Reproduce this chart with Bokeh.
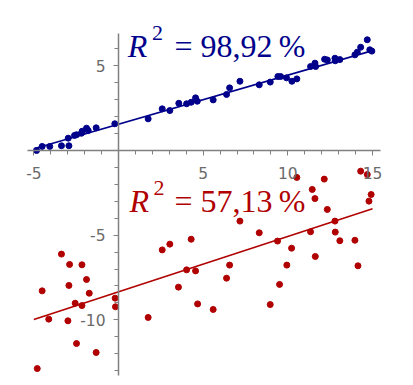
from bokeh.plotting import figure
from bokeh.models import Range1d, SingleIntervalTicker, Label
from bokeh.embed import file_html
from bokeh.resources import INLINE

# Blue series (strong correlation)
blue_x = [-4.84, -4.51, -4.06, -3.37, -2.93, -2.97, -2.60, -2.48, -2.19, -2.15,
          -1.89, -1.79, -1.32, -0.22, 1.75, 2.58, 3.03, 3.56, 4.02, 4.29,
          4.55, 4.65, 5.59, 6.38, 6.56, 7.17, 8.31, 8.96, 9.41, 9.57,
          9.92, 10.24, 10.53, 11.34, 11.60, 11.64, 12.17, 12.33, 12.78, 12.80,
          13.07, 13.96, 14.10, 14.30, 14.69, 14.84, 14.96]
blue_y = [0.00, 0.24, 0.24, 0.28, 0.28, 0.73, 0.89, 0.93, 1.02, 1.14,
          1.32, 1.18, 1.34, 1.58, 1.87, 2.46, 2.36, 2.79, 2.76, 2.85,
          3.11, 2.91, 2.99, 3.31, 3.70, 4.09, 3.88, 4.04, 4.37, 4.37,
          4.29, 4.09, 4.23, 4.96, 5.16, 4.96, 5.39, 5.35, 5.45, 5.30,
          5.37, 5.65, 5.81, 6.10, 6.54, 5.95, 5.87]
blue_fit_x = [-5.0, 15.0]
blue_fit_y = [0.10, 5.90]

# Red series (weak correlation)
red_x = [-4.80, -4.51, -4.12, -3.37, -2.89, -2.93, -2.99, -2.56, -2.48, -2.16,
         -2.16, -1.89, -1.73, -1.32, -0.20, -0.18, 1.75, 2.58, 3.03, 3.54,
         4.02, 4.29, 4.55, 4.67, 5.59, 6.38, 6.56, 7.17, 8.31, 8.96,
         9.39, 9.51, 9.94, 10.22, 10.53, 11.34, 11.44, 11.60, 11.62, 12.15,
         12.33, 12.78, 12.80, 13.07, 13.96, 14.14, 14.30, 14.69, 14.79, 14.92]
red_y = [-12.88, -8.29, -9.96, -6.12, -6.73, -7.97, -10.06, -9.02, -11.40, -6.75,
         -9.16, -7.62, -8.43, -11.93, -8.72, -9.23, -9.86, -5.87, -5.53, -8.07,
         -7.05, -5.24, -7.11, -9.06, -9.39, -7.54, -6.77, -4.17, -4.86, -9.10,
         -5.35, -7.91, -6.77, -5.77, -1.59, -4.80, -2.30, -2.84, -6.26, -1.69,
         -3.48, -4.17, -4.82, -5.33, -5.30, -6.81, -1.22, -1.42, -2.99, -2.60]
red_fit_x = [-5.0, 15.0]
red_fit_y = [-9.98, -3.44]

tick_labels = {-10: "-10", -5: "-5", 0: "", 5: "5", 10: "10", 15: "15"}

BLUE = "#00008b"
RED = "#b00000"

p = figure(width=413, height=385, output_backend="svg", toolbar_location=None,
           x_range=Range1d(-6.97, 17.42), y_range=Range1d(-13.88, 8.86),
           min_border=0)
p.outline_line_color = None
p.grid.visible = False
p.background_fill_color = "white"

for ax, bounds, standoff in ((p.xaxis, (-5.4, 15.5), 11), (p.yaxis, (-13.3, 6.9), 8)):
    ax.fixed_location = 0
    ax.ticker = SingleIntervalTicker(interval=5, num_minor_ticks=5)
    ax.bounds = bounds
    ax.major_label_overrides = tick_labels
    ax.axis_line_color = "#808080"
    ax.axis_line_width = 1.5
    ax.major_tick_line_color = "#808080"
    ax.minor_tick_line_color = "#808080"
    ax.major_tick_in = 0
    ax.major_tick_out = 5
    ax.minor_tick_in = 0
    ax.minor_tick_out = 4
    ax.major_label_text_color = "#6a6a6a"
    ax.major_label_text_font = "DejaVu Sans"
    ax.major_label_text_font_size = "15.5px"
    ax.major_label_standoff = standoff

p.line(blue_fit_x, blue_fit_y, line_color=BLUE, line_width=1.6)
p.scatter(blue_x, blue_y, size=6, color=BLUE)
p.line(red_fit_x, red_fit_y, line_color=RED, line_width=1.6)
p.scatter(red_x, red_y, size=6, color=RED)

def r2_label(x_r, x_sup, x_eq, y_base, y_sup, rest, color):
    p.add_layout(Label(x=x_r, y=y_base, text="R", text_color=color,
                       text_font="Liberation Serif", text_font_style="italic",
                       text_font_size="32px", text_baseline="alphabetic"))
    p.add_layout(Label(x=x_sup, y=y_sup, text="2", text_color=color,
                       text_font="Liberation Serif", text_font_size="22px",
                       text_baseline="alphabetic"))
    p.add_layout(Label(x=x_eq, y=y_base, text=rest, text_color=color,
                       text_font="Liberation Serif", text_font_size="32px",
                       text_baseline="alphabetic"))

r2_label(0.55, 1.98, 3.30, 6.17, 6.95, "= 98,92\u2009%", BLUE)
r2_label(0.65, 2.06, 3.30, -2.99, -2.20, "= 57,13\u2009%", RED)

open("out.html", "w").write(file_html(p, INLINE))
